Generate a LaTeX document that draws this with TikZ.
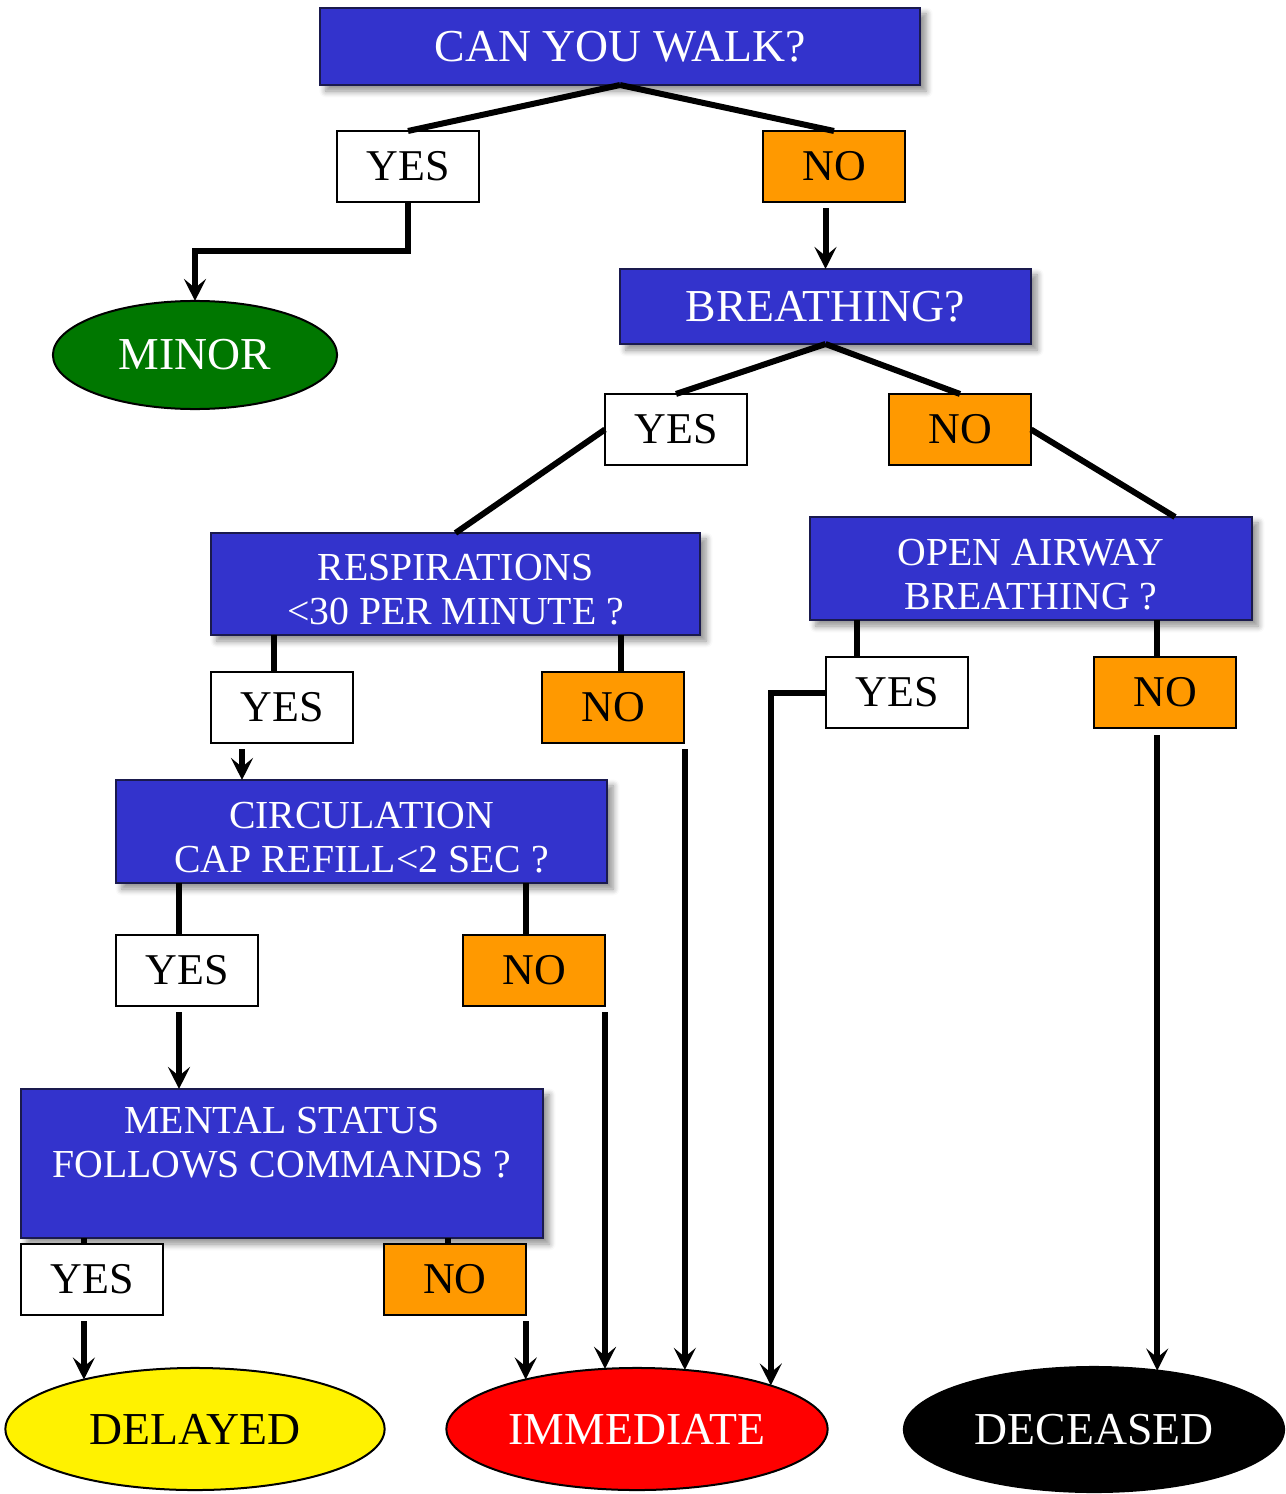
\documentclass[tikz,border=0pt]{standalone}
\usepackage{fontspec}
\setmainfont{Liberation Serif}
\usetikzlibrary{arrows.meta,calc,shapes.geometric,shadows.blur}

\definecolor{qblue}{HTML}{3333CC}
\definecolor{qborder}{HTML}{1A1A4D}
\definecolor{ansorange}{HTML}{FF9900}
\definecolor{mgreen}{HTML}{007700}

\newcommand{\toprule}{\rule{0pt}{3.8mm}}

\tikzset{
  question/.style={draw=qborder, line width=0.2mm, fill=qblue, text=white,
    align=center, inner sep=0pt, outer sep=0pt,
    blur shadow={shadow xshift=0.6mm, shadow yshift=-0.6mm, shadow blur steps=6, shadow opacity=45}},
  qbig/.style={question, font=\fontsize{13}{15}\selectfont},
  qtwo/.style={question, font=\fontsize{11.3}{12.6}\selectfont},
  answer/.style={draw=black, line width=0.15mm, minimum width=1.42cm, minimum height=0.71cm,
    inner sep=0pt, outer sep=0pt, font=\fontsize{12.5}{14}\selectfont},
  yesbox/.style={answer, fill=white},
  nobox/.style={answer, fill=ansorange},
  outcome/.style={ellipse, draw=black, line width=0.2mm, inner sep=0pt, outer sep=0pt,
    font=\fontsize{13}{15}\selectfont},
  link/.style={line width=0.6mm},
  arr/.style={link, -{Stealth[length=2.2mm,width=2.2mm,inset=0.9mm]}},
}

\begin{document}
\begin{tikzpicture}[x=0.01cm, y=-0.01cm]
\useasboundingbox (0,0) rectangle (1286,1494);

% Domande
\node[qbig, minimum width=6cm, minimum height=0.77cm] (walk) at (620,46.5) {CAN YOU WALK?};
\node[qbig, minimum width=4.11cm, minimum height=0.75cm] (breath) at (825.5,306.5) {BREATHING?};
\node[qtwo, minimum width=4.89cm, minimum height=1.02cm] (resp) at (455.5,584) {\toprule RESPIRATIONS\\<30 PER MINUTE ?};
\node[qtwo, minimum width=4.42cm, minimum height=1.03cm] (airway) at (1031,568.5) {\toprule OPEN AIRWAY\\BREATHING ?};
\node[qtwo, minimum width=4.91cm, minimum height=1.03cm] (circ) at (361.5,831.5) {\toprule CIRCULATION\\CAP REFILL<2 SEC ?};
\node[qtwo, minimum width=5.22cm, minimum height=1.49cm] (mental) at (282,1163.5) {\toprule MENTAL STATUS\\FOLLOWS COMMANDS ?\\[-0.3mm]\strut};

% Risposte
\node[yesbox] (yesA) at (408,166.5) {YES};
\node[nobox] (noA) at (834,166.5) {NO};
\node[yesbox] (yesB) at (676,429.5) {YES};
\node[nobox] (noB) at (960,429.5) {NO};
\node[yesbox] (yesC) at (282,707.5) {YES};
\node[nobox] (noC) at (613,707.5) {NO};
\node[yesbox] (yesF) at (897,692.5) {YES};
\node[nobox] (noF) at (1165,692.5) {NO};
\node[yesbox] (yesD) at (187,970.5) {YES};
\node[nobox] (noD) at (534,970.5) {NO};
\node[yesbox] (yesE) at (92,1279.5) {YES};
\node[nobox] (noE) at (455,1279.5) {NO};

% Esiti
\node[outcome, fill=mgreen, text=white, minimum width=2.84cm, minimum height=1.08cm] (minor) at (195,355) {MINOR};
\node[outcome, fill=yellow, minimum width=3.79cm, minimum height=1.22cm] (delayed) at (195,1429) {DELAYED};
\node[outcome, fill=red, text=white, minimum width=3.81cm, minimum height=1.22cm] (immediate) at (637,1429) {IMMEDIATE};
\node[outcome, fill=black, text=white, minimum width=3.8cm, minimum height=1.25cm] (deceased) at (1094,1429.5) {DECEASED};

% Rami dalle domande
\draw[link] (walk.south) -- (yesA.north);
\draw[link] (walk.south) -- (noA.north);
\draw[link] (breath.south) -- (yesB.north);
\draw[link] (breath.south) -- (noB.north);
\draw[link] (yesB.west) -- (resp.north);
\draw[link] (noB.east) -- ($(airway.north)+(144,0)$);
\draw[link] ($(yesC.north)+(-8,0)$) -- ($(yesC.north |- resp.south)+(-8,0)$);
\draw[link] ($(noC.north)+(8,0)$) -- ($(noC.north |- resp.south)+(8,0)$);
\draw[link] ($(yesF.north)+(-40,0)$) -- ($(yesF.north |- airway.south)+(-40,0)$);
\draw[link] ($(noF.north)+(-8,0)$) -- ($(noF.north |- airway.south)+(-8,0)$);
\draw[link] ($(yesD.north)+(-8,0)$) -- ($(yesD.north |- circ.south)+(-8,0)$);
\draw[link] ($(noD.north)+(-8,0)$) -- ($(noD.north |- circ.south)+(-8,0)$);
\draw[link] ($(yesE.north)+(-8,0)$) -- ($(yesE.north |- mental.south)+(-8,0)$);
\draw[link] ($(noE.north)+(-7,0)$) -- ($(noE.north |- mental.south)+(-7,0)$);

% Frecce verso le domande e gli esiti
\draw[arr] (yesA.south) -- ++(0,49) -| (minor.north);
\draw[arr] ($(noA.south -| breath.north)+(0,6)$) -- (breath.north);
\draw[arr] ($(yesC.south)+(-40,6)$) -- ($(yesC.south |- circ.north)+(-40,0)$);
\draw[arr] ($(yesD.south)+(-8,6)$) -- ($(yesD.south |- mental.north)+(-8,0)$);
\draw[arr] ($(delayed.156 |- yesE.south)+(0,6)$) -- (delayed.156);
\draw[arr] ($(immediate.156 |- noE.south)+(0,6)$) -- (immediate.156);
\draw[arr] ($(immediate.118 |- noD.south)+(0,6)$) -- (immediate.118);
\draw[arr] ($(immediate.51.5 |- noC.south)+(0,6)$) -- (immediate.51.5);
\draw[arr] (yesF.west) -| (immediate.18);
\draw[arr] ($(deceased.43 |- noF.south)+(0,7)$) -- (deceased.43);

\end{tikzpicture}
\end{document}
